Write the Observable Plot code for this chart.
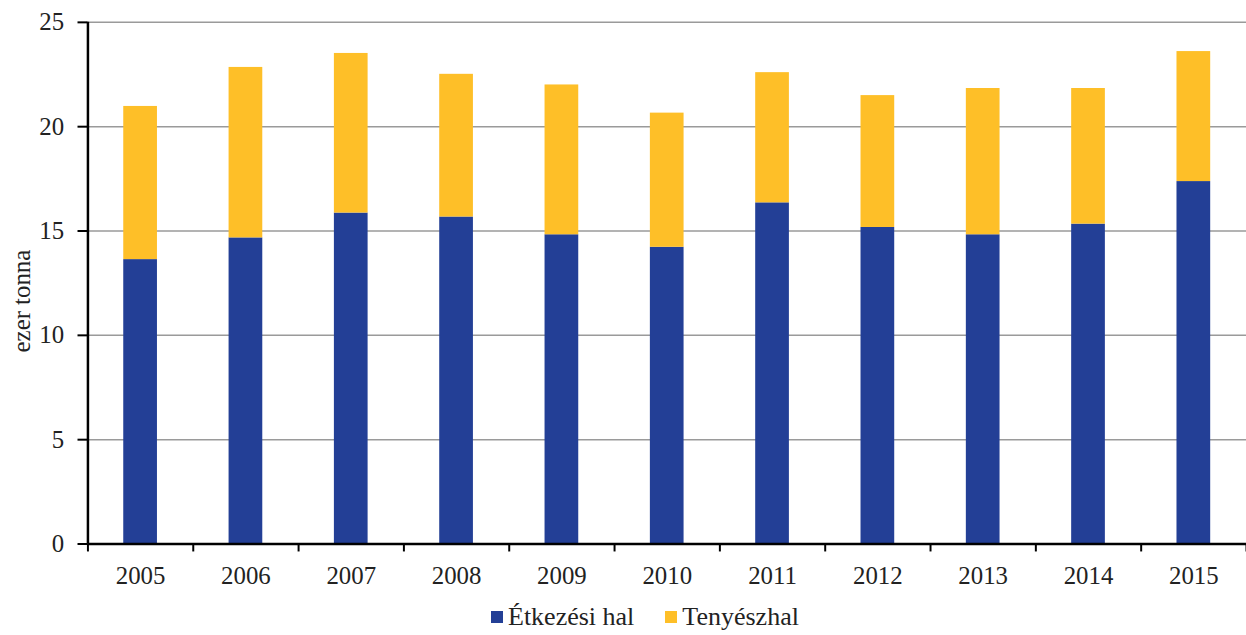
<!DOCTYPE html>
<html>
<head>
<meta charset="utf-8">
<script src="https://cdn.jsdelivr.net/npm/d3@7"></script>
<script src="https://cdn.jsdelivr.net/npm/@observablehq/plot@0.6"></script>
<style>
  html, body { margin: 0; padding: 0; background: #fff; overflow: hidden; width: 1246px; height: 635px; }
  #chart svg { display: block; font-family: "Liberation Serif", serif !important; }
  #chart svg text { font-family: "Liberation Serif", serif !important; }
  .legend { display: flex; align-items: center; font-family: "Liberation Serif", serif; font-size: 26px; color: #222; margin-left: 491px; margin-top: 7px; line-height: 28px; }
  .legend .item { display: flex; align-items: center; margin-right: 31px; }
  .legend .sw { width: 12px; height: 12px; margin-right: 5px; }
</style>
</head>
<body>
<div id="chart"></div>
<div class="legend">
  <div class="item"><div class="sw" style="background:#233F96"></div><span>Étkezési hal</span></div>
  <div class="item"><div class="sw" style="background:#FEBF28"></div><span>Tenyészhal</span></div>
</div>
<script>
const years = [2005, 2006, 2007, 2008, 2009, 2010, 2011, 2012, 2013, 2014, 2015];
const etkezesi = [13.63, 14.67, 15.86, 15.67, 14.82, 14.22, 16.35, 15.17, 14.82, 15.33, 17.37];
const tenyesz = [7.34, 8.17, 7.65, 6.84, 7.18, 6.43, 6.24, 6.32, 7.01, 6.50, 6.23];
const series = ["Étkezési hal", "Tenyészhal"];
const colors = ["#233F96", "#FEBF28"];
const yTicks = [0, 5, 10, 15, 20, 25];
const yLabel = "ezer tonna";

const data = [];
years.forEach((y, i) => {
  data.push({year: y, kind: series[0], value: etkezesi[i]});
  data.push({year: y, kind: series[1], value: tenyesz[i]});
});
const xDomain = [years[0] - 0.5, years[years.length - 1] + 0.5];
const boundaries = [...years.map(y => y - 0.5), xDomain[1]];
const halfBar = 0.16;
const serif = "Liberation Serif";

const chart = Plot.plot({
  width: 1254,
  height: 600,
  marginLeft: 88,
  marginRight: 0,
  marginTop: 22,
  marginBottom: 53,
  style: {fontSize: "24px", color: "#222"},
  x: {type: "linear", domain: xDomain},
  y: {domain: [0, 25]},
  color: {domain: series, range: colors},
  marks: [
    Plot.gridY(yTicks, {stroke: "#9a9a9a", strokeOpacity: 1, strokeWidth: 1.5}),
    Plot.rectY(data, Plot.stackY({
      x1: d => d.year - halfBar,
      x2: d => d.year + halfBar,
      y: "value",
      fill: "kind",
      order: series
    })),
    Plot.axisY(yTicks, {tickSize: 10, tickPadding: 14, strokeWidth: 2, stroke: "#000", fontSize: 25, fontFamily: serif, label: null}),
    Plot.text([yLabel], {frameAnchor: "left", textAnchor: "middle", rotate: -90, dx: -66, dy: 18, fontSize: 25, fontFamily: serif, fill: "#222"}),
    Plot.axisX(boundaries, {tickSize: 8, strokeWidth: 2, stroke: "#000", tickFormat: () => "", label: null}),
    Plot.axisX(years, {tickSize: 0, tickPadding: 22, tickFormat: d => String(d), fontSize: 25, fontFamily: serif, label: null}),
    Plot.ruleX([xDomain[0]], {stroke: "#000", strokeWidth: 2.5}),
    Plot.ruleY([0], {stroke: "#000", strokeWidth: 2.5})
  ]
});
document.getElementById("chart").appendChild(chart);
</script>
</body>
</html>
